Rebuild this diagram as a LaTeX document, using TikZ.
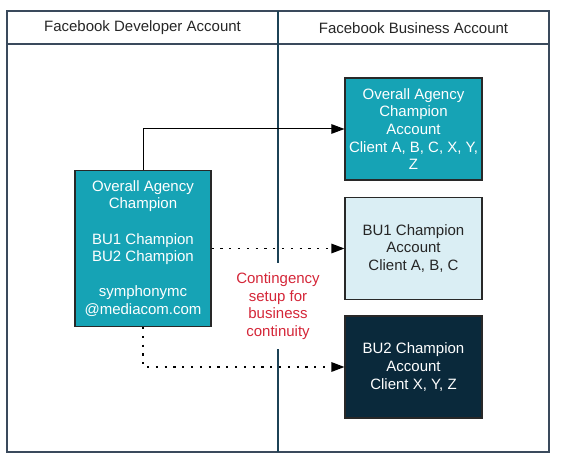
\documentclass[tikz,border=0pt]{standalone}
\usepackage{fontspec}
\setmainfont{Liberation Sans}
\usetikzlibrary{arrows.meta}
\definecolor{frameC}{RGB}{58,74,92}
\definecolor{midC}{RGB}{28,66,86}
\definecolor{tealC}{RGB}{22,163,181}
\definecolor{lightC}{RGB}{218,238,244}
\definecolor{navyC}{RGB}{10,41,59}
\definecolor{redC}{RGB}{212,38,56}
\definecolor{edgeC}{RGB}{40,40,40}
\begin{document}
\begin{tikzpicture}[x=1pt,y=-1pt,
  frame/.style={draw=frameC,line width=1.5pt},
  head/.style={font=\fontsize{15}{17.6}\selectfont,text=black!85},
  acct/.style={draw=edgeC,line width=1.1pt,minimum width=137pt,minimum height=102pt,align=center,font=\fontsize{15}{17.6}\selectfont},
  conn/.style={line width=1pt,-{Triangle[length=13pt,width=9.5pt]}},
  dots/.style={conn,line width=1.3pt,dash pattern=on 2.2pt off 6.6pt}]
\useasboundingbox (0,0) rectangle (561,470);
\draw[frame] (7,11) rectangle (549,452);
\draw[frame] (7,44) -- (549,44);
\node[head] (hdev) at (142.5,28) {Facebook Developer Account};
\node[head] (hbus) at (413.5,28) {Facebook Business Account};
\coordinate (mtop) at (278,11);
\coordinate (mbot) at (278,452);
\node[align=center,text=redC,inner ysep=9.5pt,inner xsep=2pt,font=\fontsize{15}{17.6}\selectfont] (cont) at (278,306) {Contingency\\setup for\\business\\continuity};
\draw[midC,line width=1.5pt] (mtop) -- (cont.north);
\draw[midC,line width=1.5pt] (cont.south) -- (mbot);
\node[acct,fill=tealC,text=white,minimum width=136pt,minimum height=156pt] (champ) at (143,248.5) {Overall Agency\\Champion\\[17.6pt]BU1 Champion\\BU2 Champion\\[17.6pt]symphonymc\\@mediacom.com};
\node[acct,fill=tealC,text=white] (oac) at (413.5,129) {Overall Agency\\Champion\\Account\\Client A, B, C, X, Y,\\Z};
\node[acct,fill=lightC,text=black!85] (bu1) at (413.5,248.5) {BU1 Champion\\Account\\Client A, B, C};
\node[acct,fill=navyC,text=white] (bu2) at (413.5,367) {BU2 Champion\\Account\\Client X, Y, Z};
\draw[conn] (champ.north) |- (oac.west);
\draw[dots] (champ.east) -- (bu1.west);
\draw[dots] (champ.south) |- (bu2.west);
\end{tikzpicture}
\end{document}
